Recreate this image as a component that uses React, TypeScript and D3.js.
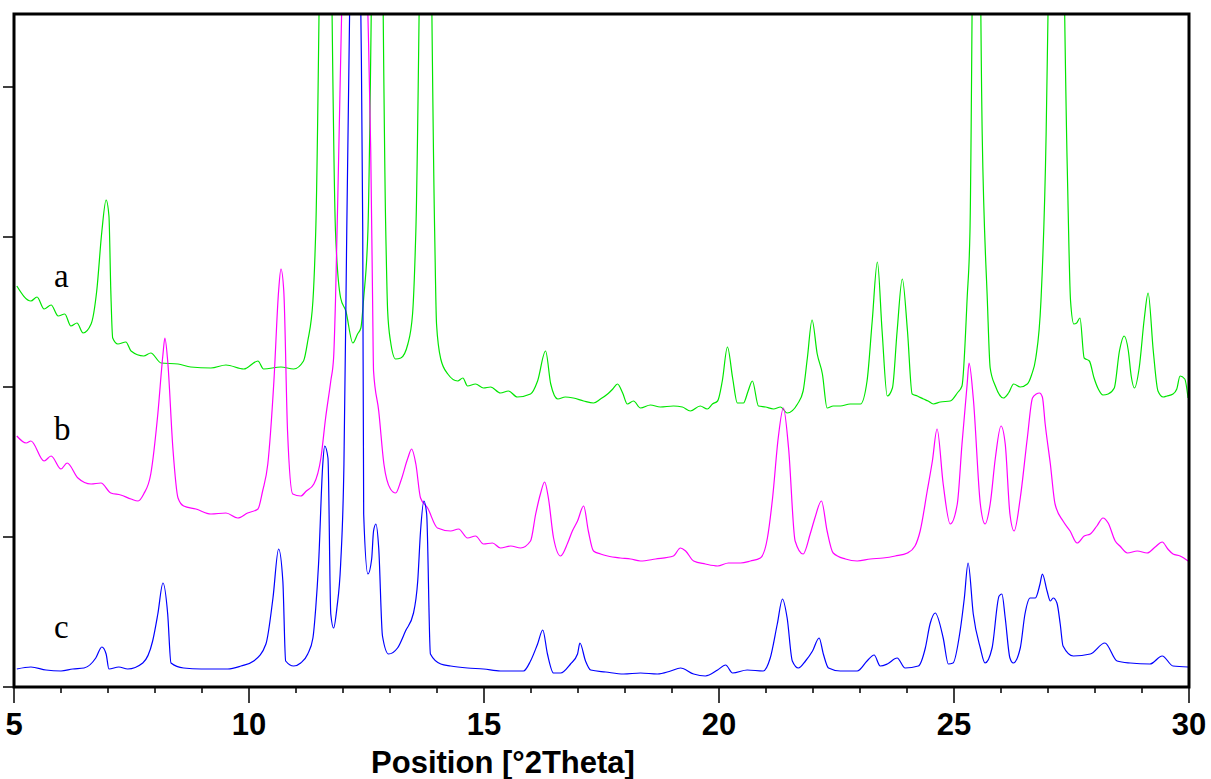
import React from 'react';
import * as d3 from 'd3';

// [°2Theta, intensity]; values above the frame are clipped peaks
const traceA: [number, number][] = [
  [5.06, 401], [5.36, 386], [5.49, 390], [5.64, 378], [5.79, 382], [5.94, 371], [6.08, 373], [6.21, 361],
  [6.34, 364], [6.47, 354], [6.64, 363], [6.76, 396], [6.87, 456], [6.96, 487], [7.02, 471], [7.06, 396],
  [7.1, 349], [7.21, 343], [7.38, 345], [7.49, 336], [7.76, 331], [7.91, 334], [8.13, 324], [8.49, 323],
  [8.76, 320], [9.19, 319], [9.51, 322], [9.89, 318], [10.19, 326], [10.31, 318], [10.68, 320], [10.95, 318],
  [11.16, 326], [11.25, 346], [11.36, 386], [11.42, 456], [11.63, 1100], [11.84, 456], [11.95, 389],
  [12.06, 376], [12.21, 344], [12.31, 353], [12.38, 359], [12.44, 389], [12.53, 456], [12.74, 1100],
  [12.91, 456], [12.95, 376], [13.01, 346], [13.12, 328], [13.23, 329], [13.38, 343], [13.48, 373],
  [13.55, 456], [13.76, 1100], [13.95, 456], [13.99, 363], [14.08, 328], [14.23, 313], [14.44, 306],
  [14.55, 309], [14.65, 301], [14.82, 303], [14.99, 299], [15.14, 300], [15.35, 294], [15.52, 296],
  [15.71, 290], [15.99, 293], [16.14, 306], [16.31, 336], [16.42, 303], [16.57, 288], [16.73, 290],
  [16.9, 289], [17.12, 286], [17.33, 284], [17.48, 288], [17.63, 293], [17.74, 298], [17.84, 303],
  [17.95, 294], [18.05, 283], [18.18, 286], [18.33, 279], [18.54, 282], [18.75, 280], [19.03, 281],
  [19.22, 280], [19.39, 276], [19.6, 281], [19.75, 278], [19.86, 283], [19.97, 286], [20.07, 306],
  [20.18, 340], [20.29, 309], [20.39, 284], [20.52, 284], [20.62, 296], [20.71, 306], [20.84, 281],
  [20.99, 280], [21.16, 278], [21.31, 280], [21.45, 274], [21.67, 283], [21.79, 296], [21.88, 329],
  [21.98, 367], [22.09, 333], [22.2, 313], [22.3, 279], [22.43, 281], [22.58, 281], [22.79, 283],
  [23.01, 283], [23.15, 306], [23.26, 366], [23.37, 425], [23.47, 356], [23.58, 291], [23.69, 299],
  [23.79, 356], [23.9, 408], [24.01, 356], [24.11, 293], [24.22, 291], [24.35, 288], [24.45, 286],
  [24.56, 283], [24.71, 285], [24.92, 286], [25.07, 294], [25.17, 301], [25.28, 389], [25.34, 456],
  [25.47, 1100], [25.6, 553], [25.71, 386], [25.77, 319], [25.88, 301], [26.05, 289], [26.16, 294],
  [26.27, 303], [26.41, 300], [26.56, 303], [26.65, 312], [26.74, 329], [26.85, 386], [26.96, 553],
  [27.0, 673], [27.17, 1150], [27.41, 519], [27.48, 386], [27.55, 363], [27.61, 364], [27.68, 369],
  [27.77, 329], [27.88, 326], [27.98, 309], [28.07, 298], [28.17, 292], [28.28, 293], [28.41, 299],
  [28.52, 336], [28.62, 351], [28.71, 336], [28.77, 311], [28.84, 299], [28.94, 319], [29.05, 369],
  [29.13, 394], [29.24, 336], [29.34, 296], [29.45, 290], [29.53, 291], [29.66, 293], [29.74, 298],
  [29.81, 311], [29.91, 308], [29.98, 289],
];

const traceB: [number, number][] = [
  [5.06, 251], [5.26, 244], [5.36, 246], [5.64, 226], [5.79, 231], [6.0, 218], [6.13, 224], [6.36, 209],
  [6.64, 203], [6.85, 204], [7.06, 194], [7.27, 192], [7.49, 188], [7.64, 186], [7.76, 193], [7.91, 213],
  [8.06, 273], [8.17, 333], [8.21, 349], [8.27, 326], [8.38, 239], [8.49, 189], [8.61, 181], [8.87, 178],
  [9.19, 173], [9.51, 174], [9.76, 169], [9.97, 174], [10.19, 178], [10.29, 196], [10.4, 223], [10.53, 306],
  [10.63, 396], [10.68, 418], [10.74, 396], [10.82, 256], [10.93, 193], [11.1, 191], [11.22, 196],
  [11.38, 203], [11.53, 229], [11.63, 269], [11.74, 306], [11.8, 329], [11.84, 386], [11.91, 536],
  [11.97, 672], [12.25, 1000], [12.53, 672], [12.59, 536], [12.63, 386], [12.65, 316], [12.76, 276],
  [12.87, 223], [13.01, 198], [13.12, 194], [13.23, 206], [13.38, 229], [13.46, 238], [13.55, 223],
  [13.65, 189], [13.8, 179], [14.01, 159], [14.29, 156], [14.46, 158], [14.65, 149], [14.82, 151],
  [14.99, 143], [15.18, 144], [15.35, 139], [15.57, 141], [15.78, 139], [15.99, 146], [16.1, 173],
  [16.2, 193], [16.29, 205], [16.37, 189], [16.48, 149], [16.63, 131], [16.78, 144], [16.88, 156],
  [16.99, 166], [17.12, 181], [17.22, 156], [17.33, 136], [17.48, 133], [17.63, 131], [17.9, 129],
  [18.12, 128], [18.33, 126], [18.65, 128], [19.03, 131], [19.18, 139], [19.29, 136], [19.46, 126],
  [19.71, 123], [19.97, 121], [20.2, 124], [20.46, 124], [20.67, 126], [20.88, 129], [21.03, 149],
  [21.14, 189], [21.26, 249], [21.37, 279], [21.48, 239], [21.62, 146], [21.79, 133], [21.94, 153],
  [22.04, 169], [22.18, 186], [22.3, 156], [22.43, 134], [22.69, 128], [22.94, 126], [23.22, 128],
  [23.49, 129], [23.75, 131], [24.01, 134], [24.17, 141], [24.28, 156], [24.43, 196], [24.54, 226],
  [24.64, 258], [24.77, 203], [24.92, 163], [25.07, 183], [25.17, 243], [25.28, 303], [25.32, 324],
  [25.41, 289], [25.56, 183], [25.66, 163], [25.77, 183], [25.88, 229], [26.0, 261], [26.09, 243],
  [26.19, 173], [26.28, 156], [26.41, 189], [26.56, 249], [26.67, 289], [26.75, 293], [26.82, 294],
  [26.88, 290], [26.94, 263], [27.05, 223], [27.15, 183], [27.32, 166], [27.47, 156], [27.62, 144],
  [27.77, 151], [27.9, 153], [28.04, 161], [28.17, 169], [28.28, 164], [28.43, 146], [28.53, 141],
  [28.69, 134], [28.9, 136], [29.11, 134], [29.28, 140], [29.43, 145], [29.55, 138], [29.66, 133],
  [29.81, 131], [29.98, 126],
];

const traceC: [number, number][] = [
  [5.06, 18], [5.36, 20], [5.68, 17], [6.0, 16], [6.25, 18], [6.49, 19], [6.74, 29], [6.87, 40], [6.96, 33],
  [7.02, 18], [7.23, 20], [7.42, 18], [7.74, 24], [7.95, 46], [8.06, 73], [8.17, 104], [8.27, 73], [8.34, 24],
  [8.61, 19], [8.98, 18], [9.55, 18], [9.83, 21], [10.1, 26], [10.36, 43], [10.51, 89], [10.63, 138],
  [10.72, 106], [10.78, 26], [10.95, 21], [11.1, 24], [11.25, 33], [11.36, 49], [11.42, 79], [11.48, 123],
  [11.57, 223], [11.61, 241], [11.68, 229], [11.74, 73], [11.8, 59], [11.87, 79], [11.95, 123],
  [12.02, 223], [12.08, 456], [12.14, 672], [12.25, 1000], [12.38, 672], [12.42, 456], [12.44, 173],
  [12.53, 113], [12.61, 128], [12.65, 156], [12.7, 163], [12.76, 139], [12.84, 51], [12.97, 33],
  [13.16, 39], [13.33, 56], [13.5, 74], [13.59, 106], [13.65, 156], [13.72, 186], [13.78, 173],
  [13.86, 33], [14.08, 23], [14.29, 21], [14.65, 19], [14.99, 18], [15.35, 16], [15.84, 16], [15.99, 26],
  [16.14, 43], [16.25, 57], [16.35, 33], [16.48, 14], [16.63, 14], [16.84, 23], [16.99, 33], [17.04, 44],
  [17.16, 26], [17.27, 17], [17.59, 15], [17.97, 13], [18.33, 14], [18.69, 13], [18.97, 16], [19.18, 19],
  [19.46, 13], [19.71, 11], [19.97, 17], [20.14, 22], [20.29, 14], [20.6, 17], [20.94, 16], [21.09, 29],
  [21.24, 63], [21.35, 88], [21.45, 69], [21.56, 26], [21.69, 19], [21.84, 26], [21.99, 36], [22.13, 49],
  [22.22, 33], [22.33, 19], [22.58, 16], [22.94, 16], [23.15, 26], [23.3, 32], [23.43, 21], [23.58, 23],
  [23.79, 29], [23.96, 19], [24.24, 21], [24.39, 39], [24.49, 63], [24.6, 74], [24.77, 49], [24.88, 23],
  [24.98, 24], [25.13, 56], [25.22, 89], [25.3, 124], [25.41, 73], [25.56, 39], [25.66, 24], [25.81, 39],
  [25.96, 91], [26.02, 93], [26.09, 69], [26.19, 29], [26.26, 24], [26.41, 39], [26.51, 73], [26.62, 89],
  [26.73, 89], [26.83, 103], [26.88, 113], [26.98, 96], [27.05, 86], [27.11, 89], [27.19, 84], [27.26, 63],
  [27.32, 41], [27.54, 31], [27.9, 33], [28.21, 44], [28.47, 26], [28.75, 24], [29.17, 23], [29.43, 31],
  [29.66, 21], [29.98, 20],
];

const series = [
  { name: 'a', data: traceA, color: '#00e600', labelAt: [5.85, 400] },
  { name: 'b', data: traceB, color: '#ff00ff', labelAt: [5.85, 247] },
  { name: 'c', data: traceC, color: '#0000ff', labelAt: [5.85, 49] },
];

const xMajor = [5, 10, 15, 20, 25, 30];
const xMinor = d3.range(5, 31, 1);
const yTicks = [0, 150, 300, 450, 600];

const W = 1211;
const H = 779;
const m = { left: 14, right: 22, top: 14, bottom: 92 };

export default function App() {
  const x = d3.scaleLinear().domain([5, 30]).range([m.left, W - m.right]);
  const y = d3.scaleLinear().domain([0, 673]).range([H - m.bottom, m.top]);
  const line = d3
    .line<[number, number]>()
    .x((d) => x(d[0]))
    .y((d) => y(d[1]))
    .curve(d3.curveMonotoneX);

  const bottom = H - m.bottom;

  return (
    <svg width={W} height={H} style={{ position: 'absolute', left: 0, top: 0, background: '#fff' }}>
      <defs>
        <clipPath id="plot">
          <rect x={m.left} y={m.top} width={W - m.left - m.right} height={bottom - m.top} />
        </clipPath>
      </defs>

      <g clipPath="url(#plot)">
        {series.map((s) => (
          <path key={s.name} d={line(s.data) || ''} fill="none" stroke={s.color} strokeWidth={1.2} />
        ))}
      </g>

      {series.map((s) => (
        <text
          key={s.name}
          x={x(s.labelAt[0])}
          y={y(s.labelAt[1])}
          fontFamily="'Liberation Serif', 'Times New Roman', serif"
          fontSize={33}
        >
          {s.name}
        </text>
      ))}

      {/* frame */}
      <rect
        x={m.left}
        y={m.top}
        width={W - m.left - m.right}
        height={bottom - m.top}
        fill="none"
        stroke="#000"
        strokeWidth={3}
      />

      {yTicks.map((t) => (
        <line key={t} x1={m.left - 11} x2={m.left} y1={y(t)} y2={y(t)} stroke="#000" strokeWidth={1.5} />
      ))}

      {xMinor.map((t) => (
        <line
          key={t}
          x1={x(t)}
          x2={x(t)}
          y1={bottom}
          y2={bottom + (xMajor.includes(t) ? 16 : 6)}
          stroke="#000"
          strokeWidth={1.5}
        />
      ))}

      {xMajor.map((t) => (
        <text
          key={t}
          x={x(t)}
          y={bottom + 48}
          textAnchor="middle"
          fontFamily="'Liberation Sans', Arial, sans-serif"
          fontWeight="bold"
          fontSize={31}
        >
          {t}
        </text>
      ))}

      <text
        x={503}
        y={773}
        textAnchor="middle"
        fontFamily="'Liberation Sans', Arial, sans-serif"
        fontWeight="bold"
        fontSize={31}
      >
        Position [°2Theta]
      </text>
    </svg>
  );
}
